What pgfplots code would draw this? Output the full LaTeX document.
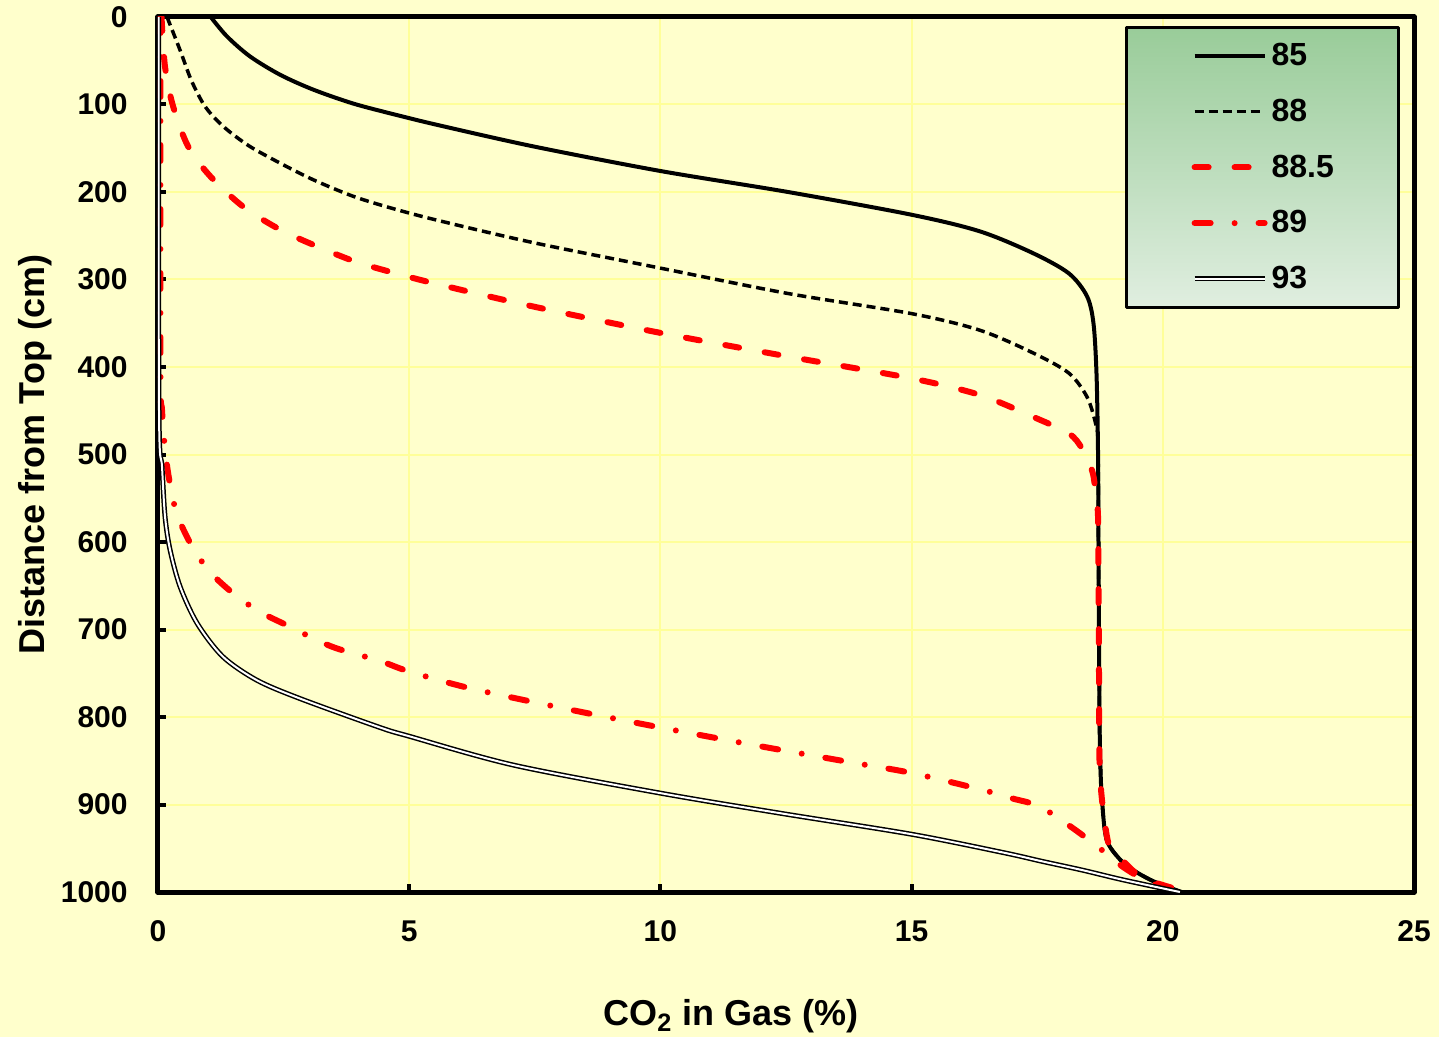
\documentclass[border=0pt]{standalone}
\usepackage{pgfplots}
\pgfplotsset{compat=1.18}
\usepackage{fontspec}
\setmainfont{Liberation Sans}

\definecolor{bgyellow}{HTML}{FFFFCC}
\definecolor{gridyellow}{HTML}{FFFF99}
\definecolor{legtop}{HTML}{99CC99}
\definecolor{legbot}{HTML}{E0EEE0}
\definecolor{exred}{HTML}{FF0000}

\begin{document}
\begin{tikzpicture}
% page background, 0.5pt per pixel of the reference
\path[use as bounding box, fill=bgyellow] (-79pt,-72.5pt) rectangle (640.5pt,446pt);
\begin{axis}[
    scale only axis,
    width=628pt, height=437.5pt,
    xmin=0, xmax=25, ymin=0, ymax=1000,
    y dir=reverse,
    xtick={0,5,...,25},
    ytick={0,100,...,1000},
    xtick pos=left, ytick pos=left,
    tick align=inside,
    major tick length=4pt,
    every tick/.style={black, line width=2pt},
    axis line style={black, line width=2.5pt},
    grid=major,
    major grid style={gridyellow, line width=1pt},
    /pgf/number format/assume math mode=true,
    /pgf/number format/1000 sep={},
    ticklabel style={font=\fontsize{15}{18}\selectfont\bfseries},
    yticklabel style={anchor=east, inner sep=0pt, xshift=-15pt},
    xticklabel style={anchor=north, inner sep=0pt, yshift=-14pt},
    xlabel={CO\textsubscript{2} in Gas (\%)},
    ylabel={Distance from Top (cm)},
    label style={font=\fontsize{18}{22}\selectfont\bfseries},
    xlabel style={at={(axis description cs:0.4562,-0.1531)}, anchor=base},
    ylabel style={at={(axis description cs:-0.0900,0.5)}, anchor=base},
    legend image code/.code={\draw[#1] (0pt,0pt) -- (35pt,0pt);},
    legend cell align=left,
    legend style={
        at={(axis description cs:0.7700,0.9900)}, anchor=north west,
        draw=black, line width=1.5pt,
        top color=legtop, bottom color=legbot,
        font=\fontsize{16}{19}\selectfont\bfseries,
        inner xsep=32.5pt, inner ysep=8pt,
        nodes={inner sep=0pt},
        column sep=2pt, row sep=15.2pt,
    },
    line join=round,
]

% 85
\addplot[black, line width=2pt, smooth, tension=0.5] coordinates {
(1.05,0) (1.37,22) (1.83,45) (2.43,66) (3.09,83) (3.89,99) (4.75,112) (5.61,124)
(7.48,148) (10,176) (12.54,200) (15,226) (16.36,245) (17.42,270) (18.13,293)
(18.49,319) (18.62,350) (18.68,407) (18.71,495) (18.72,600) (18.73,700)
(18.74,800) (18.76,860) (18.79,895) (18.88,940) (19.15,963) (19.41,975)
(19.75,986) (20.08,994) (20.38,1000)
};
\addlegendentry{85}

% 88
\addplot[black, line width=1.75pt, dash pattern=on 4.5pt off 2.5pt, smooth, tension=0.5] coordinates {
(0.18,0) (0.44,38) (0.66,72) (0.9,99) (1.12,115) (1.4,130) (1.83,148) (2.43,167)
(3.09,186) (3.89,205) (4.68,219) (5.61,233) (7.48,258) (10,287) (12.54,316)
(15,339) (16.36,358) (17.42,384) (18.13,407) (18.49,434) (18.66,464)
(18.71,487) (18.72,600) (18.73,700) (18.74,800) (18.76,860) (18.79,895)
(18.88,940) (19.15,963) (19.41,975) (19.75,986) (20.08,994) (20.38,1000)
};
\addlegendentry{88}

% 88.5
\addplot[exred, line width=3pt, line cap=round, dash pattern=on 7pt off 13pt, smooth, tension=0.5] coordinates {
(0.07,0) (0.14,57) (0.3,102) (0.6,148) (1.04,182) (1.7,217) (2.43,243)
(3.16,262) (3.95,280) (4.8,294) (5.61,306) (7.48,331) (10,361) (12.54,388)
(15,413) (16.36,432) (17.42,457) (18.13,476) (18.39,493) (18.59,518)
(18.65,537) (18.71,570) (18.72,650) (18.73,750) (18.74,850) (18.79,895)
(18.9,940) (19.01,952) (19.55,982) (20.28,997) (20.4,1000)
};
\addlegendentry{88.5}

% 89
\addplot[exred, line width=3pt, line cap=round, dash pattern=on 8pt off 12pt on 0pt off 12pt, smooth, tension=0.5] coordinates {
(0.05,0) (0.05,400) (0.08,449) (0.14,494) (0.23,531) (0.37,567) (0.64,601)
(1.0,632) (1.46,657) (2.0,679) (2.56,695) (3.16,712) (3.58,722) (4.42,736)
(5,748) (6.2,767) (8.15,791) (10,812) (11.95,833) (13.81,852) (15,864)
(16.39,883) (17.0,893) (17.54,902) (18.16,925) (18.7,948) (19.2,971)
(19.7,988) (20.3,1000)
};
\addlegendentry{89}

% 93
\addplot[black, line width=0.75pt, double=white, double distance=1pt, smooth, tension=0.5] coordinates {
(0.01,0) (0.02,450) (0.08,514) (0.14,571) (0.24,609) (0.44,651) (0.78,693)
(1.29,731) (1.97,758) (2.83,779) (4.42,812) (5,822) (7.08,855) (10,887)
(12.39,910) (15,934) (16.83,955) (17.6,965) (18.4,975) (19.2,986) (20.34,1000)
};
\addlegendentry{93}

\end{axis}
\end{tikzpicture}
\end{document}
